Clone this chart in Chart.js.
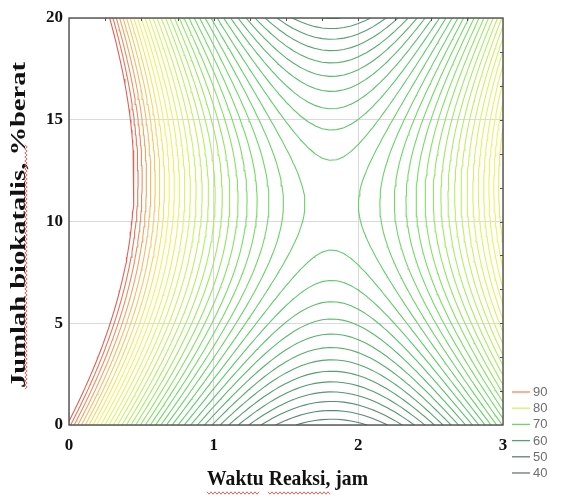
<!DOCTYPE html>
<html>
<head>
<meta charset="utf-8">
<script src="https://cdn.jsdelivr.net/npm/chart.js@4.4.1/dist/chart.umd.min.js"></script>
<style>
  html, body { margin: 0; padding: 0; background: #ffffff; }
  #wrap { width: 572px; height: 501px; }
</style>
</head>
<body>
<div id="wrap"><canvas id="plot" width="572" height="501"></canvas></div>
<script>
// Yield contours over reaction time (jam) and biocatalyst load (%berat)
const timeTicks = [0, 1, 2, 3];
const catalystTicks = [0, 5, 10, 15, 20];
const keyLevels = [90, 80, 70, 60, 50, 40];
const contourLevels = [55, 56, 57, 58, 59, 60, 61, 62, 63, 64, 65, 66, 67, 68, 69, 70, 71, 72,
  73, 74, 75, 76, 77, 78, 79, 80, 81, 82, 83, 84, 85, 86, 87, 88, 89, 90, 91, 92];

// fitted response surface: yield = centreYield + sum coef * (t - t0)^p * (w - w0)^q
const surfaceCentre = [1.815, 10.8];
const surfaceCentreYield = 67.55;
const termPowers = [[2, 0], [0, 2], [2, 1]];
const termCoefs = [13.0, -0.1135, 0.16];

// sampling grid for the contour tracer
const gridStepTime = 0.05;
const gridStepCatalyst = 0.25;

function surface(t, w) {
  const dt = t - surfaceCentre[0], dw = w - surfaceCentre[1];
  let z = surfaceCentreYield;
  termPowers.forEach(([p, q], i) => { z += termCoefs[i] * Math.pow(dt, p) * Math.pow(dw, q); });
  return z;
}

const gridT = [], gridW = [];
for (let i = 0; i <= Math.round(3 / gridStepTime); i++) gridT.push(+(i * gridStepTime).toFixed(4));
for (let j = 0; j <= Math.round(20 / gridStepCatalyst); j++) gridW.push(+(j * gridStepCatalyst).toFixed(4));
const Z = gridW.map(w => gridT.map(t => surface(t, w)));

// marching squares, then chain the cell segments into polylines
function traceLevel(L) {
  const nx = gridT.length, ny = gridW.length;
  const hPt = (i, j) => {
    const a = Z[j][i], b = Z[j][i + 1], f = (L - a) / (b - a);
    return { k: 'h' + i + '_' + j, x: gridT[i] + f * (gridT[i + 1] - gridT[i]), y: gridW[j] };
  };
  const vPt = (i, j) => {
    const a = Z[j][i], b = Z[j + 1][i], f = (L - a) / (b - a);
    return { k: 'v' + i + '_' + j, x: gridT[i], y: gridW[j] + f * (gridW[j + 1] - gridW[j]) };
  };
  const segs = [];
  for (let j = 0; j < ny - 1; j++) {
    for (let i = 0; i < nx - 1; i++) {
      const z00 = Z[j][i] >= L, z10 = Z[j][i + 1] >= L, z11 = Z[j + 1][i + 1] >= L, z01 = Z[j + 1][i] >= L;
      const bottom = z00 !== z10 ? hPt(i, j) : null;
      const right = z10 !== z11 ? vPt(i + 1, j) : null;
      const top = z01 !== z11 ? hPt(i, j + 1) : null;
      const left = z00 !== z01 ? vPt(i, j) : null;
      const pts = [bottom, right, top, left].filter(Boolean);
      if (pts.length === 2) segs.push(pts);
      else if (pts.length === 4) {
        const c = (Z[j][i] + Z[j][i + 1] + Z[j + 1][i + 1] + Z[j + 1][i]) / 4 >= L;
        if (c === z00) { segs.push([bottom, right]); segs.push([top, left]); }
        else { segs.push([bottom, left]); segs.push([top, right]); }
      }
    }
  }
  const byKey = new Map();
  segs.forEach((s, n) => s.forEach(p => {
    if (!byKey.has(p.k)) byKey.set(p.k, []);
    byKey.get(p.k).push(n);
  }));
  const used = new Array(segs.length).fill(false);
  const lines = [];
  const walk = (start) => {
    used[start] = true;
    const line = [segs[start][0], segs[start][1]];
    for (const dir of [1, -1]) {
      while (true) {
        const end = dir === 1 ? line[line.length - 1] : line[0];
        const next = (byKey.get(end.k) || []).find(n => !used[n]);
        if (next === undefined) break;
        used[next] = true;
        const s = segs[next];
        const p = s[0].k === end.k ? s[1] : s[0];
        if (dir === 1) line.push(p); else line.unshift(p);
      }
    }
    lines.push(line);
  };
  segs.forEach((s, n) => {
    if (!used[n] && s.some(p => byKey.get(p.k).length === 1)) walk(n);
  });
  segs.forEach((s, n) => { if (!used[n]) walk(n); });
  return lines;
}

// colour ramp of the contour levels
const colourStops = [
  [40, [104, 118, 112]], [50, [94, 128, 110]], [56, [88, 140, 110]], [60, [86, 160, 110]],
  [66, [92, 200, 108]], [72, [120, 222, 100]], [76, [170, 236, 100]], [80, [214, 242, 100]],
  [84, [242, 240, 100]], [88, [246, 186, 100]], [92, [226, 96, 86]]
];
function levelColour(v) {
  let a = colourStops[0], b = colourStops[colourStops.length - 1];
  for (let i = 0; i < colourStops.length - 1; i++) {
    if (v >= colourStops[i][0] && v <= colourStops[i + 1][0]) { a = colourStops[i]; b = colourStops[i + 1]; break; }
  }
  const f = b[0] === a[0] ? 0 : Math.min(1, Math.max(0, (v - a[0]) / (b[0] - a[0])));
  const c = a[1].map((x, k) => Math.round(x + f * (b[1][k] - x)));
  return 'rgb(' + c.join(',') + ')';
}

const datasets = [];
contourLevels.forEach(L => {
  traceLevel(L).forEach(line => {
    datasets.push({
      label: String(L),
      data: line.map(p => ({ x: p.x, y: p.y })),
      showLine: true,
      borderColor: levelColour(L),
      borderWidth: 1.1,
      pointRadius: 0,
      tension: 0,
      fill: false
    });
  });
});

const serifBold = '"Liberation Serif", "Times New Roman", serif';

const framePlugin = {
  id: 'frame',
  afterDatasetsDraw(chart) {
    const { ctx, chartArea: a, scales } = chart;
    ctx.save();
    ctx.strokeStyle = '#505050';
    ctx.lineWidth = 1.4;
    ctx.strokeRect(a.left, a.top, a.right - a.left, a.bottom - a.top);
    ctx.lineWidth = 1;
    ctx.beginPath();
    for (let v = 0.25; v < 3; v += 0.25) {
      const x = Math.round(scales.x.getPixelForValue(v)) + 0.5;
      ctx.moveTo(x, a.top); ctx.lineTo(x, a.top + 3);
    }
    for (let v = 5 / 3; v < 20; v += 5 / 3) {
      const y = Math.round(scales.y.getPixelForValue(v)) + 0.5;
      ctx.moveTo(a.right, y); ctx.lineTo(a.right - 3, y);
    }
    ctx.stroke();
    ctx.restore();
  }
};

function squiggle(ctx, s0, s1, at, vertical) {
  ctx.beginPath();
  let k = 0;
  for (let s = s0; s <= s1; s += 2, k++) {
    const off = (k % 2) ? 1.2 : -1.2;
    if (vertical) { if (k === 0) ctx.moveTo(at + off, s); else ctx.lineTo(at + off, s); }
    else { if (k === 0) ctx.moveTo(s, at + off); else ctx.lineTo(s, at + off); }
  }
  ctx.stroke();
}

const titlePlugin = {
  id: 'axisTitles',
  afterDraw(chart) {
    const { ctx, chartArea: a } = chart;
    ctx.save();
    ctx.fillStyle = '#111111';
    ctx.textAlign = 'center';
    ctx.textBaseline = 'alphabetic';
    const xt = 'Waktu Reaksi, jam';
    ctx.font = 'bold 22px ' + serifBold;
    let w = ctx.measureText(xt).width;
    ctx.save();
    ctx.translate((a.left + a.right) / 2 + 1.5, 485);
    ctx.scale(161 / w, 1);
    ctx.fillText(xt, 0, 0);
    ctx.restore();
    const yt = 'Jumlah biokatalis, %berat';
    ctx.font = 'bold 20px ' + serifBold;
    w = ctx.measureText(yt).width;
    ctx.save();
    ctx.translate(25, 225);
    ctx.rotate(-Math.PI / 2);
    ctx.scale(326 / w, 1);
    ctx.fillText(yt, 0, 0);
    ctx.restore();
    ctx.strokeStyle = '#d9534f';
    ctx.lineWidth = 0.9;
    squiggle(ctx, 207, 260, 493, false);
    squiggle(ctx, 268, 330, 493, false);
    squiggle(ctx, 145, 390, 26, true);
    ctx.restore();
  }
};

const keyPlugin = {
  id: 'levelKey',
  afterDraw(chart) {
    const { ctx, chartArea: a } = chart;
    ctx.save();
    ctx.font = '13px "Liberation Sans", Arial, sans-serif';
    ctx.textAlign = 'left';
    ctx.textBaseline = 'middle';
    keyLevels.forEach((lv, i) => {
      const y = a.bottom - 33 + i * 16.2;
      ctx.strokeStyle = levelColour(lv);
      ctx.lineWidth = 1.3;
      ctx.beginPath();
      ctx.moveTo(a.right + 9, y); ctx.lineTo(a.right + 27, y);
      ctx.stroke();
      ctx.fillStyle = '#6e6e6e';
      ctx.fillText(String(lv), a.right + 30, y + 0.5);
    });
    ctx.restore();
  }
};

new Chart(document.getElementById('plot'), {
  type: 'scatter',
  data: { datasets },
  options: {
    responsive: false,
    animation: false,
    events: [],
    layout: { padding: { top: 18, right: 69, left: 0, bottom: 0 } },
    plugins: { legend: { display: false }, tooltip: { enabled: false } },
    scales: {
      x: {
        type: 'linear', min: 0, max: 3,
        afterBuildTicks: s => { s.ticks = timeTicks.map(v => ({ value: v })); },
        afterFit: s => { s.height = 76; },
        grid: { color: '#dadada', lineWidth: 1, drawTicks: false },
        border: { display: false },
        ticks: { font: { family: serifBold, size: 17, weight: 'bold' }, color: '#111111', padding: 10, maxRotation: 0, autoSkip: false }
      },
      y: {
        type: 'linear', min: 0, max: 20,
        afterBuildTicks: s => { s.ticks = catalystTicks.map(v => ({ value: v })); },
        afterFit: s => { s.width = 69; },
        grid: { color: '#dadada', lineWidth: 1, drawTicks: false },
        border: { display: false },
        ticks: { font: { family: serifBold, size: 17, weight: 'bold' }, color: '#111111', padding: 6, autoSkip: false }
      }
    }
  },
  plugins: [framePlugin, titlePlugin, keyPlugin]
});
</script>
</body>
</html>
